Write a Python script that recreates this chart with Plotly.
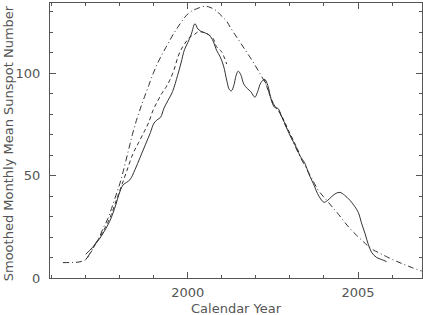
import plotly.graph_objects as go

obs_years = [1997.0, 1997.2, 1997.4, 1997.55, 1997.7, 1997.85, 1998.0, 1998.1, 1998.2, 1998.3,
             1998.45, 1998.6, 1998.75, 1998.9, 1999.0, 1999.1, 1999.2, 1999.3, 1999.42, 1999.55,
             1999.7, 1999.8, 1999.9, 2000.0, 2000.1, 2000.21, 2000.3, 2000.45, 2000.6, 2000.72,
             2000.85, 2000.95, 2001.05, 2001.15, 2001.22, 2001.28, 2001.35, 2001.42, 2001.48, 2001.55,
             2001.65, 2001.75, 2001.85, 2001.97, 2002.05, 2002.15, 2002.26, 2002.35, 2002.45, 2002.55,
             2002.65, 2002.75, 2002.85, 2002.95, 2003.05, 2003.2, 2003.3, 2003.44, 2003.55, 2003.69,
             2003.85, 2004.0, 2004.1, 2004.23, 2004.35, 2004.47, 2004.6, 2004.76, 2004.9, 2005.01,
             2005.1, 2005.21, 2005.3, 2005.4, 2005.55, 2005.7, 2005.84]
obs_values = [11.6, 15, 19, 23, 27.5, 34, 42, 45.5, 46.7, 48,
              53, 59, 65, 71, 75.5, 77.3, 78.5, 83, 86.8, 91,
              99, 105, 111.5, 115, 119, 124.2, 121.5, 120, 119, 116.5,
              111, 108, 103.5, 96, 92, 91.4, 94, 99, 101, 99.5,
              94.5, 92.5, 91, 88.3, 91, 95.5, 97, 94, 87, 83.3,
              82.8, 79, 75.5, 71.5, 68.1, 63.3, 59.5, 56, 51, 46,
              40, 37, 37.8, 39.8, 41.3, 41.8, 40.5, 38, 35, 32,
              27, 21.5, 16.5, 12.5, 10, 9, 8]

dash_years = [1997.0, 1997.15, 1997.3, 1997.45, 1997.6, 1997.75, 1997.9, 1998.05, 1998.2, 1998.39,
              1998.55, 1998.74, 1998.85, 1998.98, 1999.1, 1999.23, 1999.35, 1999.47, 1999.6, 1999.71,
              1999.8, 1999.91, 2000.06, 2000.2, 2000.3, 2000.45, 2000.55, 2000.74, 2000.84, 2000.99,
              2001.14, None,
              2002.25, 2002.35, 2002.45, 2002.55, 2002.7, 2002.85, 2003.0, 2003.15, 2003.3]
dash_values = [9, 12.5, 17, 21, 25.5, 31, 38, 45, 52, 60.8,
               66, 72.2, 76, 82, 86, 90, 93, 96.6, 102, 108,
               111.5, 114.5, 117.7, 119, 120.2, 120, 119.4, 117, 113, 110.5,
               104.5, None,
               97, 92, 87.5, 84, 81, 76, 70.5, 65.5, 60]

model_years = [1996.33, 1996.6, 1996.8, 1997.0, 1997.12, 1997.26, 1997.4, 1997.51, 1997.65, 1997.76,
               1997.9, 1998.0, 1998.1, 1998.25, 1998.37, 1998.49, 1998.6, 1998.69, 1998.85, 1998.98,
               1999.1, 1999.23, 1999.35, 1999.47, 1999.6, 1999.71, 1999.85, 1999.96, 2000.1, 2000.26,
               2000.5, 2000.65, 2000.84, 2000.94, 2001.05, 2001.14, 2001.24, 2001.38, 2001.53, 2001.68,
               2001.82, 2001.97, 2002.12, 2002.31, 2002.51, 2002.71, 2002.85, 2003.0, 2003.15, 2003.29,
               2003.45, 2003.59, 2003.72, 2003.83, 2003.98, 2004.13, 2004.25, 2004.37, 2004.57, 2004.76,
               2004.95, 2005.16, 2005.3, 2005.45, 2005.65, 2005.84, 2006.1, 2006.33, 2006.6, 2006.87]
model_values = [7.5, 7.6, 7.8, 9.0, 12, 16.1, 20, 24.2, 29, 34,
                41, 46, 52, 62, 70, 77, 82.5, 86.8, 94, 99.8,
                104.5, 108.8, 112.5, 116.1, 119.8, 122.6, 126, 128.3, 130.2, 131.5,
                132.7, 132.2, 130.5, 128.8, 127, 125.5, 122.6, 119, 115.3, 111.5,
                108, 104, 99.8, 94.1, 85.2, 80.3, 75, 70, 64.5, 59.5,
                54.5, 50.2, 46.2, 42.9, 39.8, 37.0, 34.5, 32.3, 28, 24.2,
                21, 17.7, 15.5, 13.7, 12, 10.4, 8.4, 6.8, 5, 3.4]

x_ticks = [2000, 2005]
y_ticks = [0, 50, 100]
x_title = "Calendar Year"
y_title = "Smoothed Monthly Mean Sunspot Number"

ink = "#333333"
axis_col = "#555555"
fig = go.Figure()
fig.add_trace(go.Scatter(x=model_years, y=model_values, mode="lines",
                         line=dict(color=ink, width=1, dash="6px,3px,1px,3px", shape="spline"),
                         connectgaps=False, hoverinfo="skip"))
fig.add_trace(go.Scatter(x=dash_years, y=dash_values, mode="lines",
                         line=dict(color=ink, width=1, dash="4px,3px", shape="spline"),
                         connectgaps=False, hoverinfo="skip"))
fig.add_trace(go.Scatter(x=obs_years, y=obs_values, mode="lines",
                         line=dict(color=ink, width=1, shape="spline"),
                         hoverinfo="skip"))

font = dict(family="DejaVu Sans, sans-serif", size=13, color="#555555")
common = dict(ticks="inside", ticklen=6, tickcolor=axis_col, showline=True, linecolor=axis_col,
              linewidth=1, mirror="ticks", showgrid=False, zeroline=False, automargin=False,
              tickfont=font)
fig.update_layout(
    width=423, height=315,
    margin=dict(l=50, r=1, t=3, b=37),
    paper_bgcolor="white", plot_bgcolor="white",
    showlegend=False,
    font=font,
    xaxis=dict(range=[1995.95, 2006.88], tickvals=x_ticks, ticktext=[str(v) for v in x_ticks],
               ticklabelstandoff=2,
               minor=dict(dtick=1, tick0=1996, ticks="inside", ticklen=3, tickcolor=axis_col),
               **common),
    yaxis=dict(range=[0, 134.3], tickvals=y_ticks, ticktext=[str(v) for v in y_ticks],
               ticklabelstandoff=6,
               minor=dict(dtick=10, tick0=0, ticks="inside", ticklen=3, tickcolor=axis_col),
               **common),
    annotations=[
        dict(text=x_title, xref="paper", yref="paper", x=0.5, y=0, xanchor="center",
             yanchor="top", yshift=-21, showarrow=False, font=font),
        dict(text=y_title, xref="paper", yref="paper", x=0, y=0.49, xanchor="center",
             yanchor="middle", xshift=-42, textangle=-90, showarrow=False, font=font),
    ],
)
fig.write_html("out.html", config={"displayModeBar": False, "staticPlot": True},
               post_script="document.body.style.margin='0';document.body.style.overflow='hidden';")
